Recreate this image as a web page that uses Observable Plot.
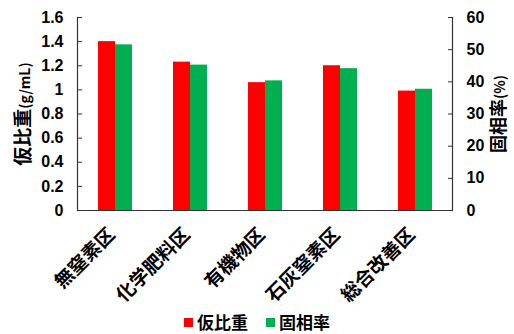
<!DOCTYPE html>
<html><head><meta charset="utf-8">
<script src="https://cdn.jsdelivr.net/npm/d3@7"></script>
<script src="https://cdn.jsdelivr.net/npm/@observablehq/plot@0.6"></script>
<style>
html,body{margin:0;background:#fff;font-family:"Noto Sans CJK JP",sans-serif;overflow:hidden;}
#chart svg{display:block;}
#legend{display:flex;justify-content:center;align-items:center;height:22px;line-height:22px;font-size:17px;font-weight:bold;color:#000;}
#legend .sw{display:inline-block;width:9px;height:9px;margin-right:4px;}
#legend .item{display:flex;align-items:center;margin:0 9px;}
</style>
</head><body><div id="chart"></div><div id="legend"></div><script>
const categories = ["無窒素区","化学肥料区","有機物区","石灰窒素区","総合改善区"];
const bulkDensity = [1.40, 1.23, 1.06, 1.20, 0.99];
const solidRatio = [51.5, 45.2, 40.3, 44.1, 37.7];
const seriesNames = ["仮比重","固相率"];
const colors = ["#ff0000","#00b050"];
const leftTicks = [0, 0.2, 0.4, 0.6, 0.8, 1, 1.2, 1.4, 1.6];
const rightTicks = [0, 10, 20, 30, 40, 50, 60];
const leftMax = 1.6, rightMax = 60;
const leftTitle = ["仮比重", "(g/mL)"];
const rightTitle = ["固相率", "(%)"];

const data = categories.flatMap((c, i) => [
  {cat: c, series: seriesNames[0], y: bulkDensity[i]},
  {cat: c, series: seriesNames[1], y: solidRatio[i] * leftMax / rightMax}
]);

const axisColor = "#333";
const numFont = '"Liberation Sans", Arial, sans-serif';
const chart = Plot.plot({
  width: 514, height: 311,
  marginLeft: 75, marginRight: 60, marginTop: 17, marginBottom: 101,
  style: {fontFamily: '"Noto Sans CJK JP", sans-serif', fontWeight: "bold", color: "#000", background: "#fff"},
  fx: {domain: categories, padding: 0, label: null},
  x: {domain: seriesNames, paddingInner: 0, paddingOuter: 1.1, axis: null},
  y: {domain: [0, leftMax], axis: null},
  color: {domain: seriesNames, range: colors},
  marks: [
    Plot.barY(data, {fx: "cat", x: "series", y: "y", fill: "series"}),
    Plot.ruleY([0], {stroke: axisColor, strokeWidth: 1.2}),
    Plot.frame({anchor: "left", facetAnchor: "left", stroke: axisColor, strokeWidth: 1.2}),
    Plot.frame({anchor: "right", facetAnchor: "right", stroke: axisColor, strokeWidth: 1.2}),
    Plot.axisY(leftTicks, {anchor: "left", tickSize: -5, tickPadding: 19, stroke: axisColor, fontSize: 16, fontFamily: numFont,
      tickFormat: d => String(d), label: null}),
    Plot.axisY(rightTicks.map(v => v * leftMax / rightMax), {anchor: "right", tickSize: -5, tickPadding: 19, stroke: axisColor, fontSize: 16, fontFamily: numFont,
      tickFormat: d => String(Math.round(d * rightMax / leftMax)), label: null}),
    Plot.axisFx({anchor: "bottom", tickRotate: -45, tickSize: 0, tickPadding: 21, dx: -3, fontSize: 19, label: null}),
    Plot.text([leftTitle.join("")], {frameAnchor: "left", facetAnchor: "left", rotate: -90, dx: -54, textAnchor: "middle", fontSize: 19}),
    Plot.text([rightTitle.join("")], {frameAnchor: "right", facetAnchor: "right", rotate: -90, dx: 47, textAnchor: "middle", fontSize: 18})
  ]
});
// shrink the unit part of each axis title, as in the reference
d3.select(chart).selectAll("text").each(function() {
  const t = this.textContent;
  for (const parts of [leftTitle, rightTitle]) {
    if (t === parts.join("")) {
      const sel = d3.select(this);
      sel.text(null);
      sel.append("tspan").text(parts[0]);
      sel.append("tspan").attr("font-size", 14).text(parts[1]);
    }
  }
});
document.getElementById("chart").appendChild(chart);

const legend = document.getElementById("legend");
seriesNames.forEach((s, i) => {
  const item = document.createElement("span");
  item.className = "item";
  item.innerHTML = `<span class="sw" style="background:${colors[i]}"></span>${s}`;
  legend.appendChild(item);
});
</script></body></html>
